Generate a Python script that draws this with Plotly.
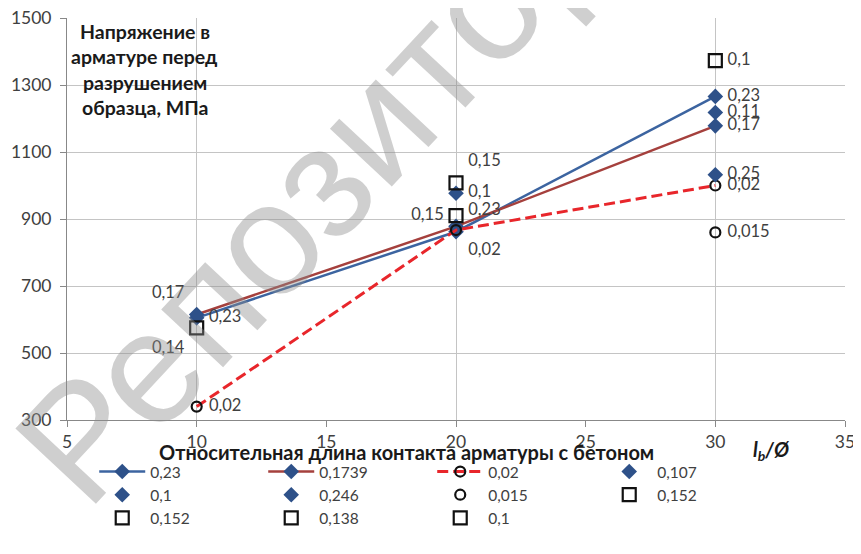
import plotly.graph_objects as go

# ---- data ----
x_line = [10, 20, 30]
s_023 = [605, 862, 1266]
s_01739 = [615, 878, 1178]
s_002 = [340, 867, 1000]
lbl_023 = ["0,23", "0,23", "0,23"]
lbl_01739 = ["0,17", "", "0,17"]
lbl_002 = ["0,02", "0,02", "0,02"]

single_names = ["0,107", "0,1", "0,246", "0,015", "0,152", "0,152", "0,138", "0,1"]
single_x = [30, 20, 30, 30, 20, 20, 10, 30]
single_y = [1218, 977, 1032, 860, 1008, 910, 575, 1373]
single_lbl = ["0,11", "0,1", "0,25", "0,015", "0,15", "0,15", "0,14", "0,1"]
single_kind = ["diamond", "diamond", "diamond", "circle", "square", "square", "square", "square"]

x_ticks = [5, 10, 15, 20, 25, 30, 35]
y_ticks = [300, 500, 700, 900, 1100, 1300, 1500]

# ---- styles ----
FONT = "Lato, 'Open Sans', sans-serif"
TXT = "#404040"
BLUE = "#3C64A0"
BROWN = "#A5403D"
RED = "#E8262B"
NAVY = "#2E5189"

fig = go.Figure()

def add_text(x, y, labels, pos):
    fig.add_trace(go.Scatter(
        x=x, y=y, text=labels, mode="markers+text", textposition=pos,
        marker=dict(size=18, opacity=0), showlegend=False, hoverinfo="skip",
        textfont=dict(family=FONT, size=16.5, color=TXT), cliponaxis=False))

fig.add_trace(go.Scatter(x=x_line, y=s_023, name="0,23", mode="lines+markers",
                         line=dict(color=BLUE, width=2.5),
                         marker=dict(symbol="diamond", size=12, color=NAVY)))
fig.add_trace(go.Scatter(x=x_line, y=s_01739, name="0,1739", mode="lines+markers",
                         line=dict(color=BROWN, width=2.5),
                         marker=dict(symbol="diamond", size=12, color=NAVY)))
fig.add_trace(go.Scatter(x=x_line, y=s_002, name="0,02", mode="lines+markers",
                         line=dict(color=RED, width=3, dash="11px,5px"),
                         marker=dict(symbol="circle-open", size=10, color="#111111",
                                     line=dict(width=2.2, color="#111111"))))

for nm, xx, yy, kind in zip(single_names, single_x, single_y, single_kind):
    if kind == "diamond":
        mk = dict(symbol="diamond", size=12, color=NAVY)
    elif kind == "circle":
        mk = dict(symbol="circle-open", size=10, color="#111111",
                  line=dict(width=2.2, color="#111111"))
    else:
        mk = dict(symbol="square-open", size=13, color="#111111",
                  line=dict(width=2.2, color="#111111"))
    fig.add_trace(go.Scatter(x=[xx], y=[yy], name=nm, mode="markers", marker=mk))

add_text(x_line, s_023, lbl_023, ["middle right", "top right", "middle right"])
add_text(x_line, s_01739, lbl_01739, ["top left", "top left", "middle right"])
add_text(x_line, s_002, lbl_002, ["middle right", "bottom right", "middle right"])
single_pos = ["middle right", "middle right", "middle right", "middle right",
              "top right", "middle left", "bottom left", "middle right"]
add_text(single_x, single_y, single_lbl, single_pos)

# watermark
fig.add_annotation(text="Репозиторий", xref="paper", yref="paper", x=0.392, y=0.729,
                   xanchor="center", yanchor="middle", showarrow=False, textangle=-47,
                   font=dict(family="'Liberation Sans', Arial, sans-serif", size=160,
                             color="rgba(140,140,140,0.42)"))

# y-axis title box
title_lines = ["Напряжение в", "арматуре перед", "разрушением", "образца, МПа"]
for i, t in enumerate(title_lines):
    fig.add_annotation(text="<b>" + t + "</b>", xref="paper", yref="paper",
                       x=0.10, y=(420 - 32 - 25 * i) / 402, xanchor="center", yanchor="middle",
                       showarrow=False, font=dict(family=FONT, size=19.5, color="#1a1a1a"))

# x-axis titles
fig.add_annotation(text="<b>Относительная длина контакта арматуры с бетоном</b>",
                   xref="paper", yref="paper", x=0.436, y=-32 / 402, xanchor="center",
                   yanchor="middle", showarrow=False,
                   font=dict(family=FONT, size=20, color="#1a1a1a"))
fig.add_annotation(text="<b><i>l<sub>b</sub>/Ø</i></b>",
                   xref="paper", yref="paper", x=0.905, y=-30 / 402, xanchor="center",
                   yanchor="middle", showarrow=False,
                   font=dict(family=FONT, size=20, color="#1a1a1a"))

# page body has an 8px margin: shrink figure so the plot lands where the reference has it
fig.update_layout(
    width=853, height=546,
    margin=dict(l=59, r=16, t=10, b=134),
    paper_bgcolor="white", plot_bgcolor="white",
    font=dict(family=FONT, size=15, color=TXT),
    xaxis=dict(range=[5, 35], tickvals=x_ticks, ticks="outside", ticklen=6,
               tickcolor="#888888", showgrid=False, showline=True, linecolor="#888888",
               zeroline=False, tickfont=dict(size=17.5, color=TXT),
               ticklabeloverflow="allow", automargin=False),
    xaxis2=dict(range=[5, 35], overlaying="x", dtick=10, tick0=0, showgrid=True,
                gridcolor="#C4C4C4", showticklabels=False, zeroline=False, side="bottom",
                matches="x", automargin=False),
    yaxis=dict(range=[300, 1500], tickvals=y_ticks, ticks="outside", ticklen=6,
               tickcolor="#888888", showgrid=True, gridcolor="#C4C4C4", showline=True,
               linecolor="#888888", zeroline=False, tickfont=dict(size=17.5, color=TXT),
               ticklabelstandoff=5, ticklabeloverflow="allow", automargin=False),
    legend=dict(orientation="h", x=0.035, y=-0.087, xanchor="left", yanchor="top",
                entrywidth=108, entrywidthmode="pixels", itemwidth=46,
                font=dict(family=FONT, size=15.5, color=TXT), tracegroupgap=0),
    showlegend=True,
)
# dummy trace to activate the gridline axis
fig.add_trace(go.Scatter(x=[None], y=[None], xaxis="x2", showlegend=False, hoverinfo="skip"))

fig.write_html("out.html")
